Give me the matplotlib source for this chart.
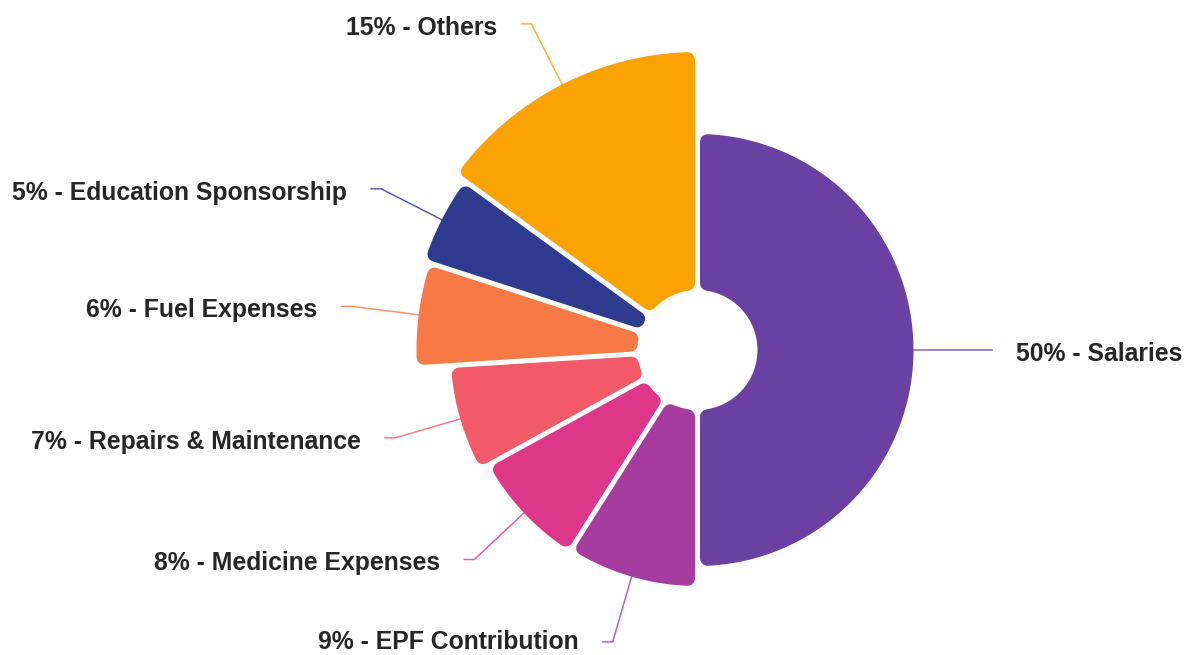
import numpy as np
import matplotlib.pyplot as plt
from matplotlib.patches import Polygon

# Data: expense breakdown, drawn clockwise from the top
categories = ['Salaries', 'EPF Contribution', 'Medicine Expenses',
              'Repairs & Maintenance', 'Fuel Expenses',
              'Education Sponsorship', 'Others']
shares = [50, 9, 8, 7, 6, 5, 15]
# outer radius of each slice (variable radius pie), in pixels
radii = [216, 236, 238, 247, 281, 287, 298]
colors = ['#6a40a2', '#a63c9f', '#de3789', '#f25a6a', '#f77a46',
          '#2e3b8e', '#f9a202']

W, H = 1187, 655
CX, CY = 697.5, H - 350
R_IN = 60
GAP = 2.5       # half the white gap between slices
CORNER = 7.5    # corner rounding radius

fig = plt.figure(figsize=(W / 100, H / 100), dpi=100)
ax = fig.add_axes([0, 0, 1, 1])
ax.set_xlim(0, W)
ax.set_ylim(0, H)
ax.set_aspect('equal')
ax.axis('off')


def slice_outline(t1, t2, r_in, r_out):
    # shrunk slice; the thick round-joined stroke grows it back with round corners
    d = GAP + CORNER
    ri = r_in + CORNER
    ro = r_out - CORNER
    a1 = t1 + np.arcsin(d / ro)
    a2 = t2 - np.arcsin(d / ro)
    ang = np.linspace(a1, a2, 120)
    pts = [np.column_stack([ro * np.cos(ang), ro * np.sin(ang)])]
    b1 = t1 + np.arcsin(d / ri)
    b2 = t2 - np.arcsin(d / ri)
    if b2 > b1:
        ang = np.linspace(b2, b1, 40)
        pts.append(np.column_stack([ri * np.cos(ang), ri * np.sin(ang)]))
    else:
        half = (t2 - t1) / 2
        rr = d / np.sin(half)
        mid = (t1 + t2) / 2
        pts.append(np.array([[rr * np.cos(mid), rr * np.sin(mid)]]))
    xy = np.vstack(pts)
    xy[:, 0] += CX
    xy[:, 1] += CY
    return xy


start = 90.0
for name, share, r, col in zip(categories, shares, radii, colors):
    end = start - share * 3.6
    t1, t2 = np.radians(end), np.radians(start)
    poly = Polygon(slice_outline(t1, t2, R_IN, r), closed=True,
                   facecolor=col, edgecolor=col,
                   linewidth=2 * CORNER * 0.72, joinstyle='round')
    ax.add_patch(poly)

    # leader line and label
    mid = (t1 + t2) / 2
    x0, y0 = CX + r * np.cos(mid), CY + r * np.sin(mid)
    x1, y1 = CX + (r + 68) * np.cos(mid), CY + (r + 68) * np.sin(mid)
    side = 1 if np.cos(mid) > 0.01 else -1
    x2 = x1 + side * 10
    ax.plot([x0, x1, x2], [y0, y1, y1], color=col, lw=1.1, alpha=0.8,
            solid_joinstyle='round')
    ty = max(y1 - 4, 13)   # keep the bottom label inside the canvas
    ax.text(x2 + side * 24, ty, f'{share}% - {name}',
            ha='left' if side > 0 else 'right', va='center',
            fontsize=17.8, fontweight='bold', family='Liberation Sans',
            color='#262626')
    start = end

fig.savefig('out.png', dpi=100)
